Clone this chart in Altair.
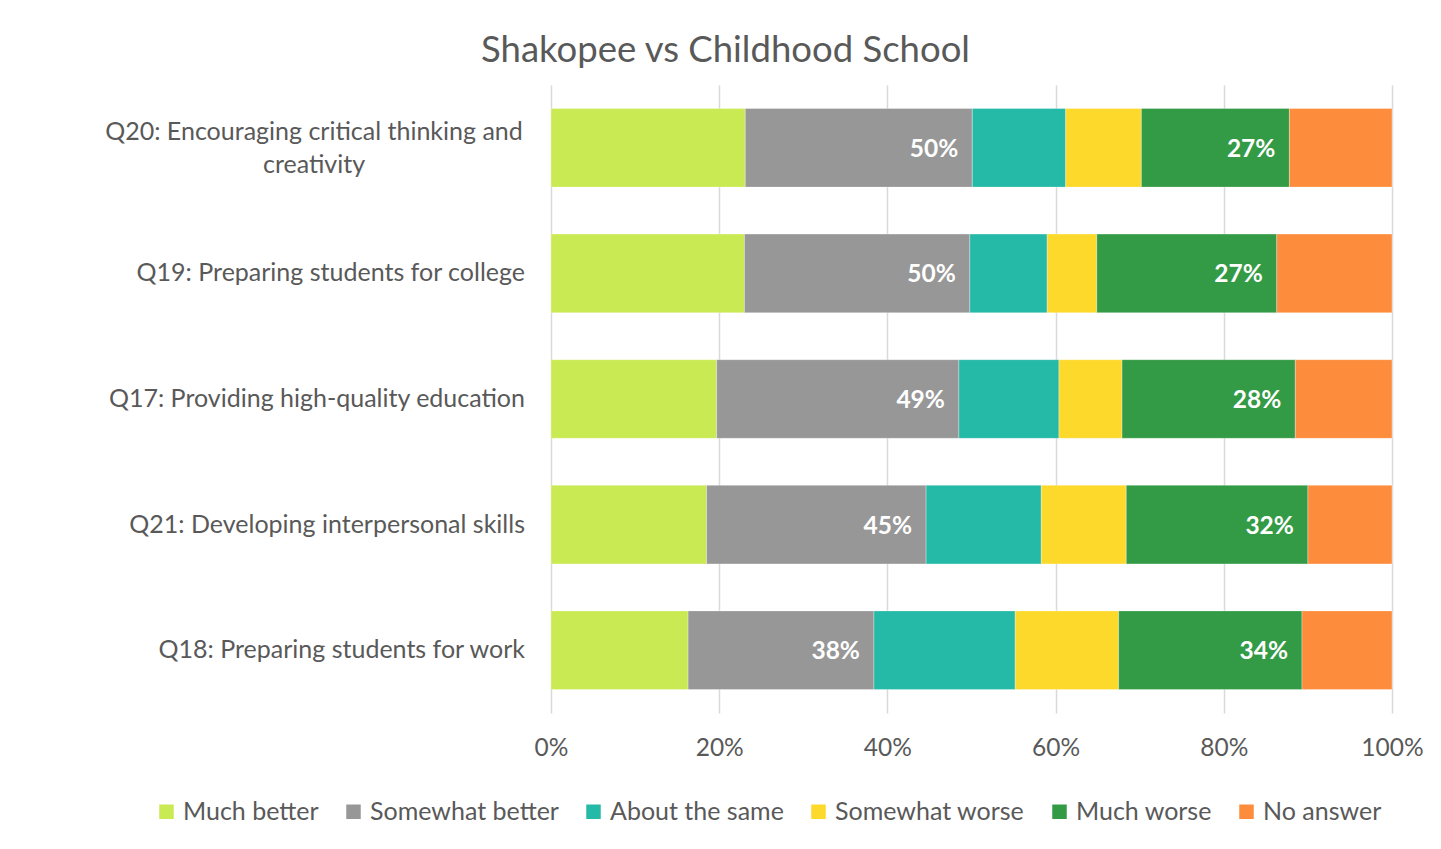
import altair as alt
import pandas as pd

questions = [
    "Q20: Encouraging critical thinking and creativity",
    "Q19: Preparing students for college",
    "Q17: Providing high-quality education",
    "Q21: Developing interpersonal skills",
    "Q18: Preparing students for work",
]
wrapped_q20 = ["Q20: Encouraging critical thinking and", "creativity"]
categories = ["Much better", "Somewhat better", "About the same",
              "Somewhat worse", "Much worse", "No answer"]
colors = ["#c9ea52", "#979797", "#25b9a7", "#fdd92b", "#339a45", "#fd8c3c"]

much_better = [23.1, 23.0, 19.7, 18.5, 16.3]
somewhat_better = [27.0, 26.8, 28.8, 26.1, 22.1]
about_same = [11.1, 9.2, 11.9, 13.7, 16.8]
somewhat_worse = [9.0, 5.9, 7.5, 10.1, 12.3]
much_worse = [17.6, 21.4, 20.6, 21.6, 21.8]
no_answer = [12.2, 13.7, 11.5, 10.0, 10.7]
better_labels = ["50%", "50%", "49%", "45%", "38%"]
worse_labels = ["27%", "27%", "28%", "32%", "34%"]
x_ticks = [0, 20, 40, 60, 80, 100]

series = [much_better, somewhat_better, about_same, somewhat_worse, much_worse, no_answer]

rows = []
for ci, (cat, vals) in enumerate(zip(categories, series)):
    for qi, q in enumerate(questions):
        rows.append({"question": q, "category": cat, "idx": ci, "value": vals[qi]})
df = pd.DataFrame(rows)

lab_rows = []
for qi, q in enumerate(questions):
    better_end = much_better[qi] + somewhat_better[qi]
    worse_end = better_end + about_same[qi] + somewhat_worse[qi] + much_worse[qi]
    lab_rows.append({"question": q, "pos": better_end, "label": better_labels[qi]})
    lab_rows.append({"question": q, "pos": worse_end, "label": worse_labels[qi]})
lab_df = pd.DataFrame(lab_rows)

qlab_single = pd.DataFrame({"question": questions[1:], "text": questions[1:]})
qlab_multi = pd.DataFrame({"question": [questions[0]], "text": [wrapped_q20]})

FONT = "Lato"
TXT = "#595959"

x_axis = alt.Axis(values=x_ticks, labelExpr="datum.value + '%'", title=None,
                  grid=True, gridColor="#d9d9d9", gridWidth=1.5,
                  domain=False, ticks=False, labelPadding=23,
                  labelFlush=False, labelBound=False,
                  labelFontSize=24.5, labelColor=TXT, labelFont=FONT)
x_scale = alt.Scale(domain=[0, 100], nice=False)

y_enc = alt.Y("question:N", sort=questions, axis=None,
              scale=alt.Scale(paddingInner=0.374, paddingOuter=0.187))

bars = alt.Chart(df).mark_bar(stroke="white", strokeWidth=0.5, strokeOpacity=0.6).encode(
    x=alt.X("value:Q", stack="zero", scale=x_scale, axis=x_axis),
    y=y_enc,
    color=alt.Color("category:N", sort=categories,
                    scale=alt.Scale(domain=categories, range=colors),
                    legend=alt.Legend(orient="none", legendX=-397, legendY=714,
                                      direction="horizontal", columns=6, title=None,
                                      symbolType="square", symbolSize=210,
                                      symbolStrokeWidth=0, labelFontSize=25,
                                      labelFont=FONT, labelColor=TXT,
                                      columnPadding=22, labelOffset=4, labelLimit=400)),
    order=alt.Order("idx:Q"),
)

val_text = alt.Chart(lab_df).mark_text(
    align="right", baseline="middle", dx=-14, dy=2, fontSize=24.5, fontWeight="bold",
    color="white", font=FONT
).encode(x=alt.X("pos:Q", scale=x_scale, axis=x_axis),
         y=alt.Y("question:N", sort=questions, axis=None),
         text="label:N")

q_single = alt.Chart(qlab_single).mark_text(
    align="right", baseline="middle", fontSize=25, color=TXT, font=FONT
).encode(x=alt.value(-26), y=alt.Y("question:N", sort=questions, axis=None),
         text="text:N")

q_multi = alt.Chart(qlab_multi).mark_text(
    align="center", baseline="middle", fontSize=25, color=TXT, font=FONT,
    lineHeight=33, dy=-16
).encode(x=alt.value(-237), y=alt.Y("question:N", sort=questions, axis=None),
         text="text")

chart = alt.layer(bars, val_text, q_single, q_multi).properties(
    width=841, height=628,
    background="white",
    title=alt.TitleParams("Shakopee vs Childhood School", fontSize=36.5, font=FONT,
                          color=TXT, fontWeight="normal", anchor="middle",
                          dx=-246, offset=16),
    autosize=alt.AutoSizeParams(type="none"),
    padding={"left": 543, "top": 77, "right": 40, "bottom": 120},
).configure_view(strokeWidth=0, stroke=None)

chart.save("out.html", embed_options={"renderer": "svg", "actions": False})
